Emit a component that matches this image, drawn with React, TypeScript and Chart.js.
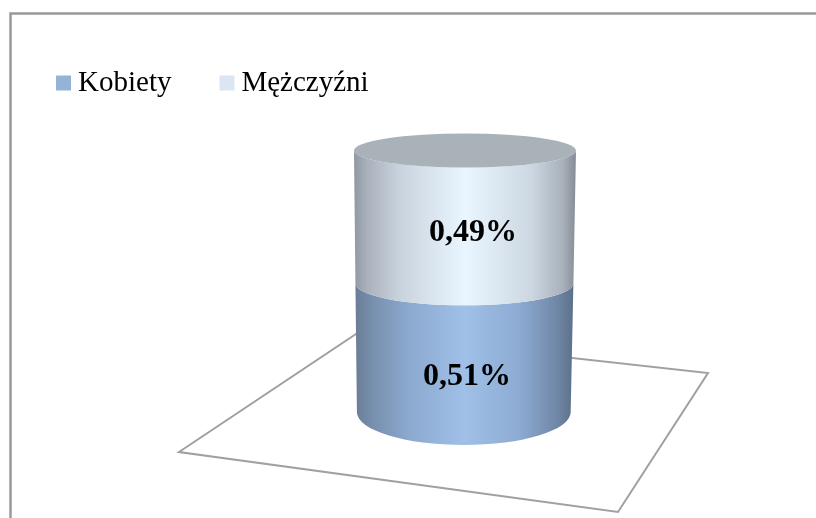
import React, { useEffect, useRef } from "react";
import { Chart, registerables } from "chart.js";

Chart.register(...registerables);

const categories = ["Płeć"];
const kobiety = [0.51];
const mezczyzni = [0.49];
const seriesNames = ["Kobiety", "Mężczyźni"];
const legendColors = ["#95b3d7", "#dce6f2"];
const valueLabels = ["0,51%", "0,49%"];

const SERIF = "'Liberation Serif', 'Times New Roman', serif";
const LINE = "#a0a0a0";

// perspective: how a fraction of the height maps on the drawn cylinder
const persp = (t: number) => t / (t + 1.0747 * (1 - t));
const lerp = (a: number, b: number, t: number) => a + (b - a) * t;

const sideStopsUpper: [number, string][] = [
  [0, "#8f98a3"], [0.06, "#a9b2bc"], [0.2, "#c8d2dc"], [0.5, "#eaf6ff"], [0.8, "#ccd7e2"], [0.94, "#a9b1bb"], [1, "#858c95"],
];
const sideStopsLower: [number, string][] = [
  [0, "#6a7d96"], [0.08, "#7890ae"], [0.25, "#8ca9cf"], [0.5, "#a0c0e8"], [0.75, "#8dabd3"], [0.92, "#7189a8"], [1, "#5c7089"],
];

const framePlugin = {
  id: "frame",
  beforeDraw(chart: any) {
    const ctx = chart.ctx;
    ctx.save();
    ctx.fillStyle = "#ffffff";
    ctx.fillRect(0, 0, chart.width, chart.height);
    ctx.strokeStyle = "#9a9a9a";
    ctx.lineWidth = 2.5;
    ctx.beginPath();
    ctx.moveTo(10.5, chart.height);
    ctx.lineTo(10.5, 13.5);
    ctx.lineTo(chart.width, 13.5);
    ctx.stroke();
    ctx.restore();
  },
};

const cylinderPlugin = {
  id: "cylinder",
  beforeDatasetsDraw(chart: any) {
    const ctx = chart.ctx;
    const lower = chart.getDatasetMeta(0).data[0];
    const upper = chart.getDatasetMeta(1).data[0];
    const baseY = lower.base;
    const topY = upper.y;
    const total = baseY - topY;
    const cx0 = lower.x;
    const halfW = lower.width / 2;

    ctx.save();
    // floor, placed relative to the foot of the cylinder
    ctx.lineWidth = 2;
    ctx.strokeStyle = LINE;
    ctx.lineJoin = "miter";
    ctx.beginPath();
    ctx.moveTo(cx0 - 286, baseY + 40);
    ctx.lineTo(cx0 - 109, baseY - 78);
    ctx.lineTo(cx0 + 243, baseY - 39);
    ctx.lineTo(cx0 + 153, baseY + 100);
    ctx.closePath();
    ctx.stroke();

    const ring = (t: number) => ({
      cx: lerp(cx0 - 1.2, cx0 + 0.0, t),
      cy: baseY - total * persp(t),
      rx: lerp(halfW * 0.963, halfW, t),
      ry: t < 0.51 ? lerp(33, 22, t / 0.51) : lerp(22, 17, (t - 0.51) / 0.49),
    });

    const segment = (a: number, b: number, stops: [number, string][]) => {
      const r0 = ring(a);
      const r1 = ring(b);
      const g = ctx.createLinearGradient(r1.cx - r1.rx, 0, r1.cx + r1.rx, 0);
      stops.forEach(([o, c]) => g.addColorStop(o, c));
      ctx.fillStyle = g;
      ctx.beginPath();
      ctx.moveTo(r1.cx - r1.rx, r1.cy);
      ctx.lineTo(r0.cx - r0.rx, r0.cy);
      ctx.ellipse(r0.cx, r0.cy, r0.rx, r0.ry, 0, Math.PI, 0, true);
      ctx.lineTo(r1.cx + r1.rx, r1.cy);
      ctx.ellipse(r1.cx, r1.cy, r1.rx, r1.ry, 0, 0, Math.PI, false);
      ctx.closePath();
      ctx.fill();
    };

    const split = kobiety[0] / (kobiety[0] + mezczyzni[0]);
    segment(0, split, sideStopsLower);
    segment(split, 1, sideStopsUpper);

    const top = ring(1);
    ctx.fillStyle = "#a9b1b9";
    ctx.beginPath();
    ctx.ellipse(top.cx, top.cy, top.rx, top.ry, 0, 0, Math.PI * 2);
    ctx.fill();

    // value labels
    ctx.fillStyle = "#000000";
    ctx.font = `bold 32px ${SERIF}`;
    ctx.textAlign = "center";
    ctx.textBaseline = "middle";
    const mid = ring(split);
    const bottom = ring(0);
    const lowY = (mid.cy + mid.ry + bottom.cy + bottom.ry) / 2;
    const upY = (top.cy + top.ry + mid.cy + mid.ry) / 2;
    ctx.fillText(valueLabels[0], cx0 + 2, lowY + 2);
    ctx.fillText(valueLabels[1], cx0 + 8, upY - 4);
    ctx.restore();
  },
};

const legendPlacement = {
  id: "legendPlacement",
  afterLayout(chart: any) {
    const l = chart.legend;
    const pad = l.options.labels.padding;
    const w = l.width;
    l.left = 63.5 - pad;
    l.right = l.left + w;
    l.top = 83 - pad - 14.5;
  },
};

export default function App() {
  const ref = useRef<HTMLCanvasElement | null>(null);
  useEffect(() => {
    document.body.style.margin = "0";
    const chart = new Chart(ref.current as HTMLCanvasElement, {
      type: "bar",
      data: {
        labels: categories,
        datasets: [
          { label: seriesNames[0], data: kobiety, backgroundColor: "transparent", barPercentage: 222 / 702, categoryPercentage: 1 },
          { label: seriesNames[1], data: mezczyzni, backgroundColor: "transparent", barPercentage: 222 / 702, categoryPercentage: 1 },
        ],
      },
      options: {
        responsive: false,
        animation: false,
        devicePixelRatio: 1,
        layout: { padding: { left: 114, right: 0, top: 56, bottom: 106 } },
        scales: {
          x: { stacked: true, display: false },
          y: { stacked: true, display: false, min: 0, max: 1 },
        },
        plugins: {
          tooltip: { enabled: false },
          legend: {
            position: "top",
            align: "start",
            labels: {
              font: { family: SERIF, size: 29 },
              color: "#000000",
              usePointStyle: true,
              boxWidth: 0.01,
              boxHeight: 15,
              padding: 55.5,
              generateLabels: () =>
                seriesNames.map((text, i) => ({
                  text,
                  fillStyle: legendColors[i],
                  strokeStyle: legendColors[i],
                  lineWidth: 0,
                  pointStyle: "rect",
                  datasetIndex: i,
                  fontColor: "#000000",
                })),
            },
          },
        },
      },
      plugins: [framePlugin, cylinderPlugin, legendPlacement],
    } as any);
    return () => chart.destroy();
  }, []);
  return <canvas ref={ref} width={816} height={518} style={{ display: "block" }} />;
}
